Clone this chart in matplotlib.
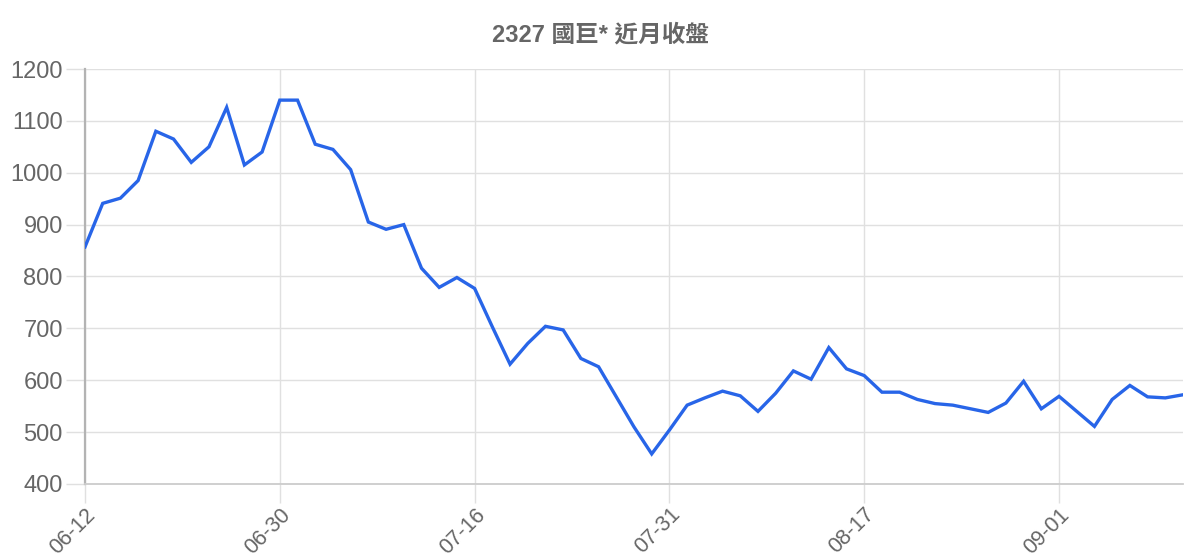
import matplotlib
matplotlib.use("Agg")
import matplotlib.pyplot as plt

title = "2327 國巨* 近月收盤"
close = [857, 941, 951, 985, 1080, 1065, 1020, 1050, 1126, 1015,
         1040, 1140, 1140, 1055, 1045, 1006, 905, 891, 900, 816,
         779, 798, 777, 703, 631, 671, 704, 697, 642, 626,
         568, 510, 458, 504, 552, 566, 579, 570, 540, 575,
         618, 602, 663, 622, 609, 577, 577, 563, 555, 552,
         545, 538, 556, 598, 545, 569, 540, 511, 563, 590,
         568, 566, 572]
tick_pos = [0, 11, 22, 33, 44, 55]
tick_labels = ["06-12", "06-30", "07-16", "07-31", "08-17", "09-01"]
y_ticks = [400, 500, 600, 700, 800, 900, 1000, 1100, 1200]

W, H = 1200, 560
fig = plt.figure(figsize=(W / 100, H / 100), dpi=100)
ax = fig.add_axes([85 / W, 1 - 484 / H, (1183 - 85) / W, (484 - 69) / H])

x = list(range(len(close)))
ax.plot(x, close, color="#2865e8", lw=2.4, solid_joinstyle="miter", zorder=3)

ax.set_xlim(0, len(close) - 1)
ax.set_ylim(400, 1200)
ax.set_yticks(y_ticks)
ax.set_xticks(tick_pos)
ax.set_xticklabels(tick_labels, rotation=45, ha="right", va="top",
                   rotation_mode="anchor")

for sp in ["top", "right"]:
    ax.spines[sp].set_visible(False)
ax.spines["left"].set_color("#b3b3b3")
ax.spines["left"].set_linewidth(1.6)
ax.spines["bottom"].set_color("#cccccc")
ax.spines["bottom"].set_linewidth(1.3)

ax.grid(True, color="#e0e0e0", lw=1.0, zorder=0)
ax.set_axisbelow(True)
ax.tick_params(axis="y", length=14, width=1.0, color="#e0e0e0", pad=2,
               labelsize=17, labelcolor="#666666")
ax.tick_params(axis="x", length=13.5, width=1.0, color="#e0e0e0", pad=1,
               labelsize=15.5, labelcolor="#666666")
for lab in ax.get_xticklabels() + ax.get_yticklabels():
    lab.set_fontfamily(["Liberation Sans", "DejaVu Sans"])

fig.text(600 / W, 1 - 35 / H, title, ha="center", va="center",
         fontsize=17, fontweight="bold", color="#666666",
         family=["Liberation Sans", "Noto Sans CJK TC", "DejaVu Sans"])

fig.savefig("out.png", dpi=100, facecolor="white")
